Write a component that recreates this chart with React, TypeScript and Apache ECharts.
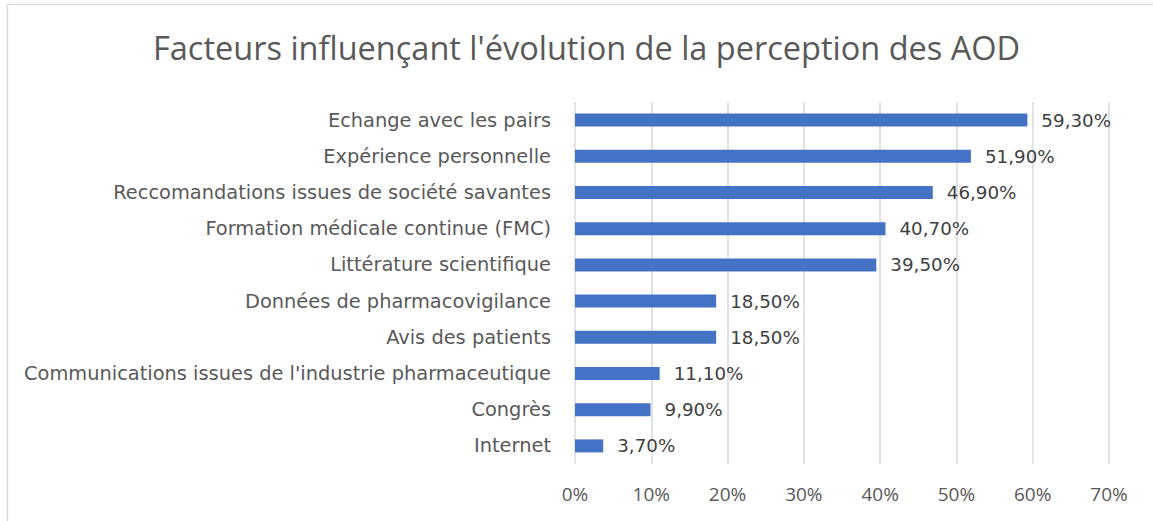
import React, { useEffect, useRef } from "react";
import * as echarts from "echarts";

const categories = [
  "Echange avec les pairs",
  "Expérience personnelle",
  "Reccomandations issues de société savantes",
  "Formation médicale continue (FMC)",
  "Littérature scientifique",
  "Données de pharmacovigilance",
  "Avis des patients",
  "Communications issues de l'industrie pharmaceutique",
  "Congrès",
  "Internet",
];
const values = [59.3, 51.9, 46.9, 40.7, 39.5, 18.5, 18.5, 11.1, 9.9, 3.7];
const titleText = "Facteurs influençant l'évolution de la perception des AOD";

export default function App() {
  const ref = useRef<HTMLDivElement>(null);
  useEffect(() => {
    if (!ref.current) return;
    const chart = echarts.init(ref.current, undefined, { renderer: "svg" });
    const font = "'Open Sans', sans-serif";
    const wide = "'DejaVu Sans', sans-serif";
    chart.setOption({
      animation: false,
      backgroundColor: "#ffffff",
      title: {
        text: titleText,
        left: 148,
        top: 26,
        textStyle: { fontFamily: font, fontSize: 32.5, fontWeight: "normal", color: "#595959" },
      },
      graphic: [
        {
          type: "rect",
          shape: { x: 7.5, y: 4.5, width: 1200, height: 600 },
          style: { fill: "none", stroke: "#d9d9d9", lineWidth: 1.5 },
          silent: true,
        },
      ],
      grid: { left: 575, right: 44, top: 102, bottom: 57, containLabel: false },
      xAxis: {
        type: "value",
        min: 0,
        max: 70,
        interval: 10,
        axisLine: { show: false },
        axisTick: { show: false },
        axisLabel: {
          formatter: (v: number) => v + "%",
          fontFamily: font,
          fontSize: 19,
          color: "#595959",
          margin: 20,
        },
        splitLine: { show: true, lineStyle: { color: "#d9d9d9", width: 1.5 } },
      },
      yAxis: {
        type: "category",
        data: categories,
        inverse: true,
        axisLine: { show: false },
        axisTick: { show: false },
        axisLabel: {
          fontFamily: wide,
          fontSize: 19.4,
          color: "#595959",
          margin: 24,
        },
      },
      series: [
        {
          type: "bar",
          data: values,
          barWidth: "36%",
          itemStyle: { color: "#4472C4" },
          label: {
            show: true,
            position: "right",
            distance: 14,
            fontFamily: wide,
            fontSize: 18.3,
            color: "#404040",
            formatter: (p: any) => p.value.toFixed(2).replace(".", ",") + "%",
          },
        },
      ],
    });
    return () => chart.dispose();
  }, []);
  return (
    <div
      ref={ref}
      style={{ position: "fixed", left: 0, top: 0, width: 1153, height: 521 }}
    />
  );
}
